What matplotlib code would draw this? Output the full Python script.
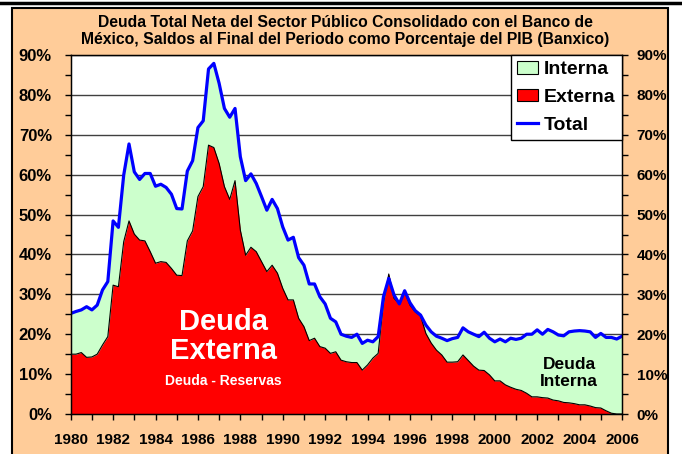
import matplotlib
matplotlib.use("Agg")
import matplotlib.pyplot as plt
import numpy as np
from matplotlib.patches import Patch, Rectangle
from matplotlib.lines import Line2D
from matplotlib.ticker import MultipleLocator, FuncFormatter

plt.rcParams['font.family'] = ['Liberation Sans', 'DejaVu Sans']
plt.rcParams['font.weight'] = 'bold'

# quarterly observations, 1980 to 2006 (% of GDP)
total = [25.2, 25.7, 26.1, 26.9, 26.1, 27.3, 31.1, 33.2, 48.4, 46.8,
         59.9, 67.7, 60.7, 58.8, 60.3, 60.3, 57.1, 57.6, 56.8, 55.1,
         51.5, 51.4, 60.9, 63.5, 71.8, 73.5, 86.5, 87.9, 82.9, 76.6,
         74.4, 76.6, 64.5, 58.5, 60.2, 57.8, 54.5, 51.1, 53.8, 51.5,
         46.9, 43.6, 44.3, 39.2, 37.3, 32.6, 32.6, 29.4, 27.6, 24.0,
         23.1, 20.0, 19.5, 19.2, 20.0, 17.7, 18.5, 18.1, 19.4, 29.4,
         34.0, 29.8, 27.6, 30.9, 27.9, 25.9, 24.8, 22.3, 20.6, 19.5,
         19.0, 18.4, 18.9, 19.2, 21.6, 20.6, 20.0, 19.4, 20.5, 19.0,
         18.1, 18.8, 18.1, 19.0, 18.7, 19.0, 20.0, 20.0, 21.1, 20.0,
         21.2, 20.6, 19.8, 19.6, 20.6, 20.8, 20.9, 20.8, 20.6, 19.2,
         20.2, 19.2, 19.2, 18.8, 19.5]
externa = [15.0, 15.0, 15.4, 14.2, 14.3, 15.0, 17.3, 19.4, 32.3, 31.9,
           43.2, 48.4, 45.1, 43.6, 43.4, 40.7, 37.8, 38.2, 38.0, 36.5,
           34.8, 34.7, 43.4, 45.9, 54.5, 57.0, 67.4, 66.8, 62.8, 57.0,
           53.8, 58.5, 46.1, 39.8, 41.8, 40.7, 38.2, 35.7, 37.3, 35.3,
           31.5, 28.6, 28.6, 24.0, 21.9, 18.4, 19.0, 16.9, 16.5, 15.2,
           15.6, 13.5, 13.1, 12.9, 12.9, 11.0, 12.3, 14.0, 15.2, 27.7,
           35.1, 29.0, 27.6, 30.7, 27.3, 25.6, 24.6, 20.2, 17.8, 16.0,
           14.8, 13.0, 13.0, 13.1, 14.8, 13.4, 12.0, 11.0, 10.9, 9.8,
           8.3, 8.3, 7.3, 6.7, 6.2, 5.9, 5.2, 4.3, 4.3, 4.1,
           4.0, 3.5, 3.3, 2.9, 2.8, 2.6, 2.3, 2.3, 2.0, 1.6,
           1.5, 0.8, 0.2, 0.0, 0.0]
years = 1980 + np.arange(len(total)) / 4.0

title = ("Deuda Total Neta del Sector Público Consolidado con el Banco de\n"
         "México, Saldos al Final del Periodo como Porcentaje del PIB (Banxico)")

fig = plt.figure(figsize=(6.82, 4.54), dpi=100)
fig.patch.set_facecolor('white')

# orange panel behind everything
fig.patches.append(Rectangle((12 / 682, -0.05), 656 / 682, 1.05 - 8 / 454,
                             transform=fig.transFigure, facecolor='#FFCC99',
                             edgecolor='black', linewidth=1.5, zorder=-10))
fig.lines.append(Line2D([0, 1], [1 - 3 / 454, 1 - 3 / 454], transform=fig.transFigure,
                        color='black', linewidth=2.5, zorder=-10))

ax = fig.add_axes([70.7 / 682, 1 - 414 / 454, (622 - 70.7) / 682, (414 - 55) / 454])
ax.set_facecolor('white')

ax.fill_between(years, 0, total, color='#CCFFCC', linewidth=0, zorder=2)
ax.fill_between(years, 0, externa, color='#FF0000', linewidth=0, zorder=3)
ax.plot(years, externa, color='black', linewidth=0.8, zorder=4)
ax.plot(years, total, color='#0000FF', linewidth=2.3, zorder=5)

ax.set_xlim(1980, 2006)
ax.set_ylim(0, 90)
ax.xaxis.set_major_locator(MultipleLocator(2))
ax.xaxis.set_minor_locator(MultipleLocator(1))
ax.yaxis.set_major_locator(MultipleLocator(10))
ax.yaxis.set_minor_locator(MultipleLocator(5))
pct = FuncFormatter(lambda v, p: f'{v:.0f}%')
ax.yaxis.set_major_formatter(pct)
ax.grid(axis='y', which='major', color='#404040', linewidth=1.0, zorder=1)
ax.set_axisbelow(True)
ax.tick_params(axis='y', which='both', direction='out', length=4.5, width=1, pad=9,
               labelsize=12)
ax.tick_params(axis='x', which='both', direction='out', length=4.5, width=1, pad=9,
               labelsize=11)
for s in ax.spines.values():
    s.set_color('black')
    s.set_linewidth(1.0)
    s.set_zorder(6)

ax2 = ax.twinx()
ax2.set_ylim(0, 90)
ax2.yaxis.set_major_locator(MultipleLocator(10))
ax2.yaxis.set_minor_locator(MultipleLocator(5))
ax2.yaxis.set_major_formatter(pct)
ax2.tick_params(axis='y', which='both', direction='out', length=4.5, width=1, pad=6,
                labelsize=11)

ax.text(1987.2, 19.5, 'Deuda\nExterna', color='white', fontsize=21, fontweight='bold',
        ha='center', va='center', linespacing=1.05, zorder=7)
ax.text(1987.2, 8.3, 'Deuda - Reservas', color='white', fontsize=10, fontweight='bold',
        ha='center', va='center', zorder=7)
ax.text(2003.5, 10.3, 'Deuda\nInterna', color='black', fontsize=12.5, fontweight='bold',
        ha='center', va='center', linespacing=1.1, zorder=7)

handles = [Patch(facecolor='#CCFFCC', edgecolor='black', linewidth=0.8),
           Patch(facecolor='#FF0000', edgecolor='black', linewidth=0.8),
           Line2D([], [], color='#0000FF', linewidth=2.3)]
leg = ax2.legend(handles, ['Interna', 'Externa', 'Total'], loc='upper right',
                 bbox_to_anchor=(1.0, 1.0), borderaxespad=0, fontsize=14,
                 fancybox=False, framealpha=1, edgecolor='black',
                 handlelength=1.1, handleheight=0.6, handletextpad=0.3,
                 labelspacing=0.55, borderpad=0.32)
leg.get_frame().set_linewidth(1.0)
leg.set_zorder(10)

fig.text(345 / 682, 1 - 31 / 454, title, ha='center', va='center', fontsize=11.3,
         fontweight='bold', linespacing=1.15)

fig.savefig('out.png', dpi=100)
